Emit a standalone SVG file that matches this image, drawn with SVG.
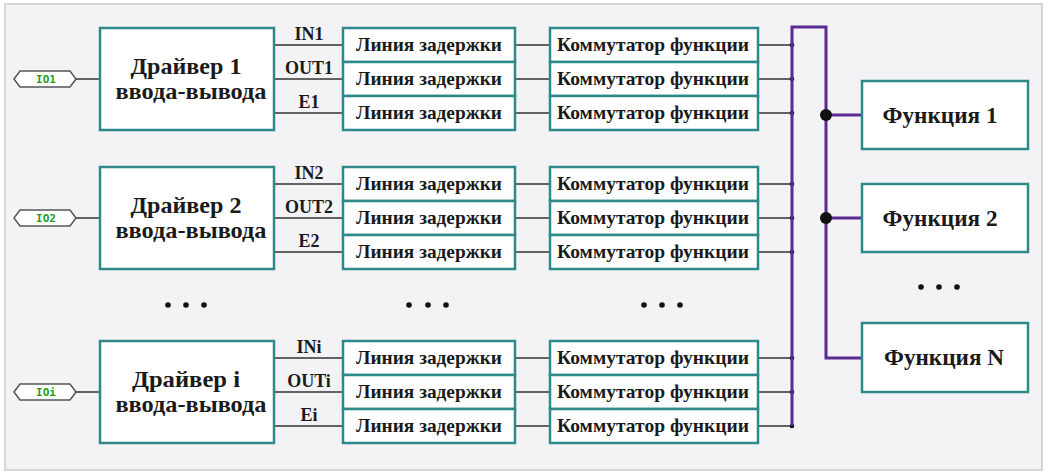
<svg xmlns="http://www.w3.org/2000/svg" width="1048" height="475" viewBox="0 0 1048 475">
<style>
.frame{fill:#f3f3f6;stroke:#d6d6d9;stroke-width:2}
.box{fill:#ffffff;stroke:#2e8a8a;stroke-width:2.5}
.io{fill:#ffffff;stroke:#555555;stroke-width:1.5}
.iot{font-family:"DejaVu Sans Mono",monospace;font-size:11px;font-weight:bold;fill:#1f9a1f;text-anchor:middle}
.t{font-family:"Liberation Serif","DejaVu Serif","Times New Roman",serif;font-weight:bold;fill:#1a1a1a;text-anchor:middle}
.c{font-family:"Liberation Serif","DejaVu Serif","Times New Roman",serif;font-weight:bold;fill:#1a1a1a;text-anchor:middle}
.drv{font-size:24px}
.lbl{font-size:18px}
.cell{font-size:19px}
.fn{font-size:23px}
.wire{stroke:#333333;stroke-width:1.5;fill:none}
.bus{stroke:#5b2a92;stroke-width:3;fill:none}
.dot{fill:#111111}
</style>
<rect class="frame" x="5" y="4" width="1037" height="466"/>

<g id="connectors">
  <path class="wire" d="M76,79 H100 M76,218 H100 M76,392 H100"/>
  <path class="wire" d="M274,45 H343 M274,79 H343 M274,113 H343 M274,184 H343 M274,218 H343 M274,252 H343 M274,358 H343 M274,392 H343 M274,426 H343"/>
  <path class="wire" d="M515,45 H550 M515,79 H550 M515,113 H550 M515,184 H550 M515,218 H550 M515,252 H550 M515,358 H550 M515,392 H550 M515,426 H550"/>
  <path class="wire" d="M758,45 H792 M758,79 H792 M758,113 H792 M758,184 H792 M758,218 H792 M758,252 H792 M758,358 H792 M758,392 H792 M758,426 H792"/>
  <g class="dot">
    <circle cx="792" cy="45" r="2.3"/><circle cx="792" cy="79" r="2.3"/><circle cx="792" cy="113" r="2.3"/>
    <circle cx="792" cy="184" r="2.3"/><circle cx="792" cy="218" r="2.3"/><circle cx="792" cy="252" r="2.3"/>
    <circle cx="792" cy="358" r="2.3"/><circle cx="792" cy="392" r="2.3"/><circle cx="792" cy="426" r="2.3"/>
  </g>
  <path class="bus" d="M792,426 V27 H826 V358 H862 M826,115 H862 M826,218 H862"/>
  <circle class="dot" cx="826" cy="115" r="6"/>
  <circle class="dot" cx="826" cy="218" r="6"/>
  <text class="t lbl" x="309" y="40">IN1</text>
  <text class="t lbl" x="309" y="74">OUT1</text>
  <text class="t lbl" x="309" y="108">E1</text>
  <text class="t lbl" x="309" y="179">IN2</text>
  <text class="t lbl" x="309" y="213">OUT2</text>
  <text class="t lbl" x="309" y="247">E2</text>
  <text class="t lbl" x="309" y="353">INi</text>
  <text class="t lbl" x="309" y="387">OUTi</text>
  <text class="t lbl" x="309" y="421">Ei</text>
</g>

<g id="io1"><polygon class="io" points="14,79 20,71 70,71 76,79 70,87 20,87"/><text class="iot" x="46" y="83">IO1</text></g>
<g id="io2"><polygon class="io" points="14,218 20,210 70,210 76,218 70,226 20,226"/><text class="iot" x="46" y="222">IO2</text></g>
<g id="ioi"><polygon class="io" points="14,392 20,384 70,384 76,392 70,400 20,400"/><text class="iot" x="46" y="396">IOi</text></g>

<g id="driver1"><rect class="box" x="100" y="28" width="174" height="102"/><text class="c drv" x="186" y="74" textLength="111" lengthAdjust="spacingAndGlyphs">Драйвер 1</text><text class="c drv" x="191" y="99" textLength="151" lengthAdjust="spacingAndGlyphs">ввода-вывода</text></g>
<g id="driver2"><rect class="box" x="100" y="167" width="174" height="102"/><text class="c drv" x="186" y="213" textLength="111" lengthAdjust="spacingAndGlyphs">Драйвер 2</text><text class="c drv" x="191" y="238" textLength="151" lengthAdjust="spacingAndGlyphs">ввода-вывода</text></g>
<g id="driveri"><rect class="box" x="100" y="341" width="174" height="102"/><text class="c drv" x="186" y="387" textLength="108" lengthAdjust="spacingAndGlyphs">Драйвер i</text><text class="c drv" x="191" y="412" textLength="151" lengthAdjust="spacingAndGlyphs">ввода-вывода</text></g>

<g id="delay1a"><rect class="box" x="343" y="28" width="172" height="34"/><text class="c cell" x="429" y="51" textLength="146" lengthAdjust="spacingAndGlyphs">Линия задержки</text></g>
<g id="delay1b"><rect class="box" x="343" y="62" width="172" height="34"/><text class="c cell" x="429" y="85" textLength="146" lengthAdjust="spacingAndGlyphs">Линия задержки</text></g>
<g id="delay1c"><rect class="box" x="343" y="96" width="172" height="34"/><text class="c cell" x="429" y="119" textLength="146" lengthAdjust="spacingAndGlyphs">Линия задержки</text></g>
<g id="delay2a"><rect class="box" x="343" y="167" width="172" height="34"/><text class="c cell" x="429" y="190" textLength="146" lengthAdjust="spacingAndGlyphs">Линия задержки</text></g>
<g id="delay2b"><rect class="box" x="343" y="201" width="172" height="34"/><text class="c cell" x="429" y="224" textLength="146" lengthAdjust="spacingAndGlyphs">Линия задержки</text></g>
<g id="delay2c"><rect class="box" x="343" y="235" width="172" height="34"/><text class="c cell" x="429" y="258" textLength="146" lengthAdjust="spacingAndGlyphs">Линия задержки</text></g>
<g id="delayia"><rect class="box" x="343" y="341" width="172" height="34"/><text class="c cell" x="429" y="364" textLength="146" lengthAdjust="spacingAndGlyphs">Линия задержки</text></g>
<g id="delayib"><rect class="box" x="343" y="375" width="172" height="34"/><text class="c cell" x="429" y="398" textLength="146" lengthAdjust="spacingAndGlyphs">Линия задержки</text></g>
<g id="delayic"><rect class="box" x="343" y="409" width="172" height="34"/><text class="c cell" x="429" y="432" textLength="146" lengthAdjust="spacingAndGlyphs">Линия задержки</text></g>

<g id="comm1a"><rect class="box" x="550" y="28" width="208" height="34"/><text class="c cell" x="653" y="51" textLength="192" lengthAdjust="spacingAndGlyphs">Коммутатор функции</text></g>
<g id="comm1b"><rect class="box" x="550" y="62" width="208" height="34"/><text class="c cell" x="653" y="85" textLength="192" lengthAdjust="spacingAndGlyphs">Коммутатор функции</text></g>
<g id="comm1c"><rect class="box" x="550" y="96" width="208" height="34"/><text class="c cell" x="653" y="119" textLength="192" lengthAdjust="spacingAndGlyphs">Коммутатор функции</text></g>
<g id="comm2a"><rect class="box" x="550" y="167" width="208" height="34"/><text class="c cell" x="653" y="190" textLength="192" lengthAdjust="spacingAndGlyphs">Коммутатор функции</text></g>
<g id="comm2b"><rect class="box" x="550" y="201" width="208" height="34"/><text class="c cell" x="653" y="224" textLength="192" lengthAdjust="spacingAndGlyphs">Коммутатор функции</text></g>
<g id="comm2c"><rect class="box" x="550" y="235" width="208" height="34"/><text class="c cell" x="653" y="258" textLength="192" lengthAdjust="spacingAndGlyphs">Коммутатор функции</text></g>
<g id="commia"><rect class="box" x="550" y="341" width="208" height="34"/><text class="c cell" x="653" y="364" textLength="192" lengthAdjust="spacingAndGlyphs">Коммутатор функции</text></g>
<g id="commib"><rect class="box" x="550" y="375" width="208" height="34"/><text class="c cell" x="653" y="398" textLength="192" lengthAdjust="spacingAndGlyphs">Коммутатор функции</text></g>
<g id="commic"><rect class="box" x="550" y="409" width="208" height="34"/><text class="c cell" x="653" y="432" textLength="192" lengthAdjust="spacingAndGlyphs">Коммутатор функции</text></g>

<g id="func1"><rect class="box" x="862" y="81" width="166" height="68"/><text class="c fn" x="940" y="123" textLength="115" lengthAdjust="spacingAndGlyphs">Функция 1</text></g>
<g id="func2"><rect class="box" x="862" y="184" width="166" height="68"/><text class="c fn" x="940" y="226" textLength="115" lengthAdjust="spacingAndGlyphs">Функция 2</text></g>
<g id="funcN"><rect class="box" x="862" y="323" width="166" height="69"/><text class="c fn" x="944" y="365" textLength="120" lengthAdjust="spacingAndGlyphs">Функция N</text></g>

<g id="ellipses" class="dot">
  <circle cx="168" cy="305" r="2.8"/><circle cx="186" cy="305" r="2.8"/><circle cx="204" cy="305" r="2.8"/>
  <circle cx="409" cy="305" r="2.8"/><circle cx="428" cy="305" r="2.8"/><circle cx="446" cy="305" r="2.8"/>
  <circle cx="644" cy="305" r="2.8"/><circle cx="662" cy="305" r="2.8"/><circle cx="680" cy="305" r="2.8"/>
  <circle cx="921" cy="287" r="2.8"/><circle cx="939" cy="287" r="2.8"/><circle cx="957" cy="287" r="2.8"/>
</g>
</svg>
